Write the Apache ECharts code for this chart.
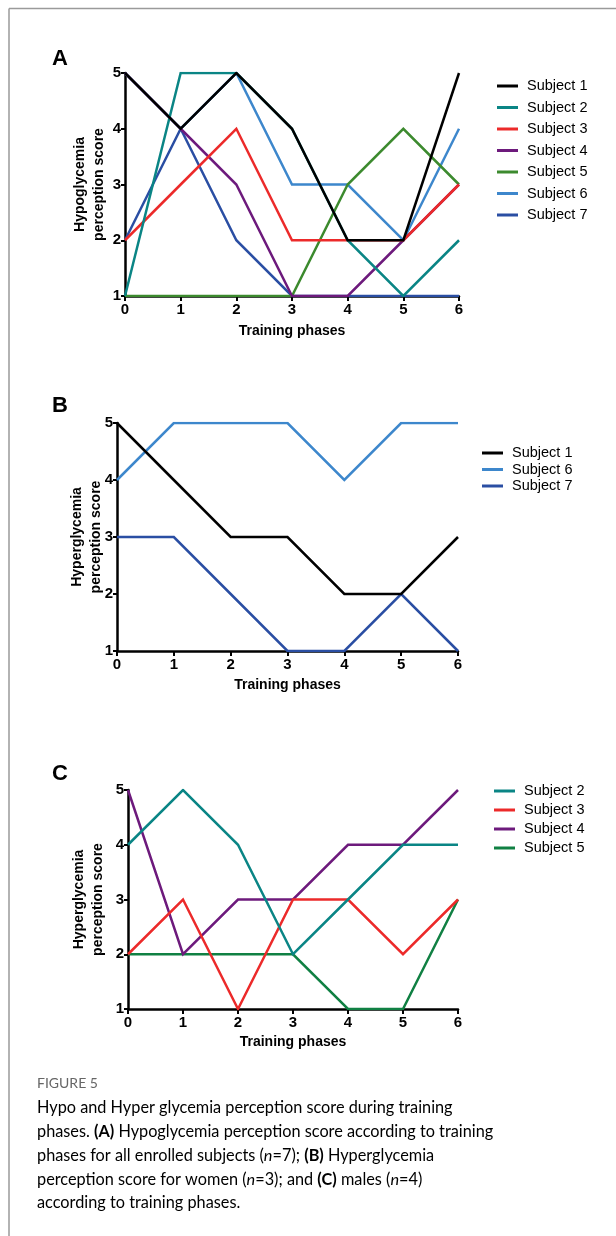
<!DOCTYPE html>
<html>
<head>
<meta charset="utf-8">
<script src="https://cdn.jsdelivr.net/npm/echarts@6/dist/echarts.min.js"></script>
<style>
html,body{margin:0;padding:0;background:#fff;}
#chart{width:616px;height:1236px;}
</style>
</head>
<body>
<div id="chart"></div>
<script>
// ---- data ----
const phases = [0, 1, 2, 3, 4, 5, 6];
const yTicks = [1, 2, 3, 4, 5];

// Panel A: Hypoglycemia perception score, all subjects
const hypoS1 = [5, 4, 5, 4, 2, 2, 5];
const hypoS2 = [1, 5, 5, 4, 2, 1, 2];
const hypoS3 = [2, 3, 4, 2, 2, 2, 3];
const hypoS4 = [5, 4, 3, 1, 1, 2, 3];
const hypoS5 = [1, 1, 1, 1, 3, 4, 3];
const hypoS6 = [5, 4, 5, 3, 3, 2, 4];
const hypoS7 = [2, 4, 2, 1, 1, 1, 1];

// Panel B: Hyperglycemia perception score, women
const hyperWS1 = [5, 4, 3, 3, 2, 2, 3];
const hyperWS6 = [4, 5, 5, 5, 4, 5, 5];
const hyperWS7 = [3, 3, 2, 1, 1, 2, 1];

// Panel C: Hyperglycemia perception score, men
const hyperMS2 = [4, 5, 4, 2, 3, 4, 4];
const hyperMS3 = [2, 3, 1, 3, 3, 2, 3];
const hyperMS4 = [5, 2, 3, 3, 4, 4, 5];
const hyperMS5 = [2, 2, 2, 2, 1, 1, 3];

const panelLabels = ['A', 'B', 'C'];
const xTitle = 'Training phases';
const yTitles = ['Hypoglycemia\nperception score', 'Hyperglycemia\nperception score', 'Hyperglycemia\nperception score'];

// ---- styles ----
const C = {
  s1: '#000000', s2: '#0a8585', s3: '#ec2a2a', s4: '#6d1a7c',
  s5: '#3c8a2e', s5c: '#108043', s6: '#3d87cc', s7: '#2a4ea3'
};
const FONT = '"Liberation Sans", Arial, Helvetica, sans-serif';
const CAPFONT = 'Lato, "Open Sans", sans-serif';

const grids = [
  {left: 125, top: 73, width: 334, height: 223},
  {left: 117, top: 423, width: 341, height: 228},
  {left: 128, top: 790, width: 330, height: 219}
];
const xNameGaps = [27, 26, 25];
const yNameGaps = [16, 11, 20];

function mkX(i) {
  return {
    gridIndex: i, type: 'value', min: 0, max: 6, interval: 1,
    name: xTitle, nameLocation: 'middle', nameGap: xNameGaps[i], nameMoveOverlap: false,
    nameTextStyle: {fontFamily: FONT, fontWeight: 'bold', fontSize: 14, color: '#000', lineHeight: 16},
    axisLine: {show: true, onZero: false, lineStyle: {color: '#000', width: 2.5}},
    axisTick: {show: true, length: 5, lineStyle: {color: '#000', width: 2}},
    axisLabel: {fontFamily: FONT, fontWeight: 'bold', fontSize: 15, color: '#000', margin: 6},
    splitLine: {show: false}
  };
}
function mkY(i) {
  return {
    gridIndex: i, type: 'value', min: 1, max: 5, interval: 1,
    name: yTitles[i], nameLocation: 'middle', nameRotate: 90, nameGap: yNameGaps[i], nameMoveOverlap: false,
    nameTextStyle: {fontFamily: FONT, fontWeight: 'bold', fontSize: 14, color: '#000', lineHeight: 19},
    axisLine: {show: true, onZero: false, lineStyle: {color: '#000', width: 2.5}},
    axisTick: {show: true, length: 4, lineStyle: {color: '#000', width: 2}},
    axisLabel: {fontFamily: FONT, fontWeight: 'bold', fontSize: 15, color: '#000', margin: 4,
      formatter: v => yTicks.includes(v) ? String(v) : ''},
    splitLine: {show: false}
  };
}
function pairs(vals) { return phases.map((p, k) => [p, vals[k]]); }
function line(name, vals, color, gi, z) {
  return {
    type: 'line', name: name, xAxisIndex: gi, yAxisIndex: gi,
    data: pairs(vals), symbol: 'none', color: color, z: z,
    lineStyle: {color: color, width: 2.5, join: 'miter'},
    emphasis: {disabled: true}, animation: false
  };
}

const series = [
  line('Subject 1', hypoS1, C.s1, 0, 20),
  line('Subject 2', hypoS2, C.s2, 0, 19),
  line('Subject 3', hypoS3, C.s3, 0, 18),
  line('Subject 4', hypoS4, C.s4, 0, 17),
  line('Subject 5', hypoS5, C.s5, 0, 16),
  line('Subject 6', hypoS6, C.s6, 0, 15),
  line('Subject 7', hypoS7, C.s7, 0, 14),
  line('Subject 1 ', hyperWS1, C.s1, 1, 20),
  line('Subject 6 ', hyperWS6, C.s6, 1, 19),
  line('Subject 7 ', hyperWS7, C.s7, 1, 18),
  line('Subject 2  ', hyperMS2, C.s2, 2, 20),
  line('Subject 3  ', hyperMS3, C.s3, 2, 19),
  line('Subject 4  ', hyperMS4, C.s4, 2, 18),
  line('Subject 5  ', hyperMS5, C.s5c, 2, 17)
];

function legend(names, left, top, gap) {
  return {
    data: names, orient: 'vertical', left: left, top: top, itemGap: gap,
    padding: 0,
    icon: 'rect', itemWidth: 21, itemHeight: 3,
    selectedMode: false,
    formatter: n => n.trim(),
    textStyle: {fontFamily: FONT, fontSize: 14.5, color: '#000', lineHeight: 16, padding: [0, 0, 0, 4]}
  };
}

const capRich = {
  r: {fontFamily: CAPFONT, fontSize: 16.3, color: '#555', lineHeight: 23.75},
  b: {fontFamily: CAPFONT, fontSize: 16.3, color: '#555', fontWeight: 'bold', lineHeight: 23.75},
  i: {fontFamily: CAPFONT, fontSize: 16.3, color: '#555', fontStyle: 'italic', lineHeight: 23.75}
};
const capText =
  '{r|Hypo and Hyper glycemia perception score during training}\n' +
  '{r|phases. }{b|(A)}{r| Hypoglycemia perception score according to training}\n' +
  '{r|phases for all enrolled subjects (}{i|n}{r|=7); }{b|(B)}{r| Hyperglycemia}\n' +
  '{r|perception score for women (}{i|n}{r|=3); and }{b|(C)}{r| males (}{i|n}{r|=4)}\n' +
  '{r|according to training phases.}';

const option = {
  backgroundColor: '#fff',
  animation: false,
  grid: grids.map(g => Object.assign({containLabel: false}, g)),
  xAxis: [mkX(0), mkX(1), mkX(2)],
  yAxis: [mkY(0), mkY(1), mkY(2)],
  legend: [
    legend(['Subject 1', 'Subject 2', 'Subject 3', 'Subject 4', 'Subject 5', 'Subject 6', 'Subject 7'], 497, 78, 5.5),
    legend(['Subject 1 ', 'Subject 6 ', 'Subject 7 '], 482, 445, 0.5),
    legend(['Subject 2  ', 'Subject 3  ', 'Subject 4  ', 'Subject 5  '], 494, 783, 3)
  ],
  series: series,
  graphic: [
    {type: 'line', shape: {x1: 9, y1: 8.5, x2: 616, y2: 8.5}, style: {stroke: '#9a9a9a', lineWidth: 1.5}, silent: true},
    {type: 'line', shape: {x1: 9, y1: 8.5, x2: 9, y2: 1236}, style: {stroke: '#9a9a9a', lineWidth: 1.5}, silent: true},
    {type: 'text', left: 52, top: 48, style: {text: panelLabels[0], font: 'bold 22px ' + FONT, fill: '#000'}},
    {type: 'text', left: 52, top: 395, style: {text: panelLabels[1], font: 'bold 22px ' + FONT, fill: '#000'}},
    {type: 'text', left: 52, top: 763, style: {text: panelLabels[2], font: 'bold 22px ' + FONT, fill: '#000'}},
    {type: 'text', left: 37, top: 1076, style: {text: 'FIGURE 5', fontFamily: CAPFONT, fontSize: 14, fill: '#666'}},
    {type: 'text', left: 37, top: 1100, style: {text: capText, rich: capRich}}
  ]
};

const chart = echarts.init(document.getElementById('chart'), null, {renderer: 'canvas'});
chart.setOption(option);
</script>
</body>
</html>
